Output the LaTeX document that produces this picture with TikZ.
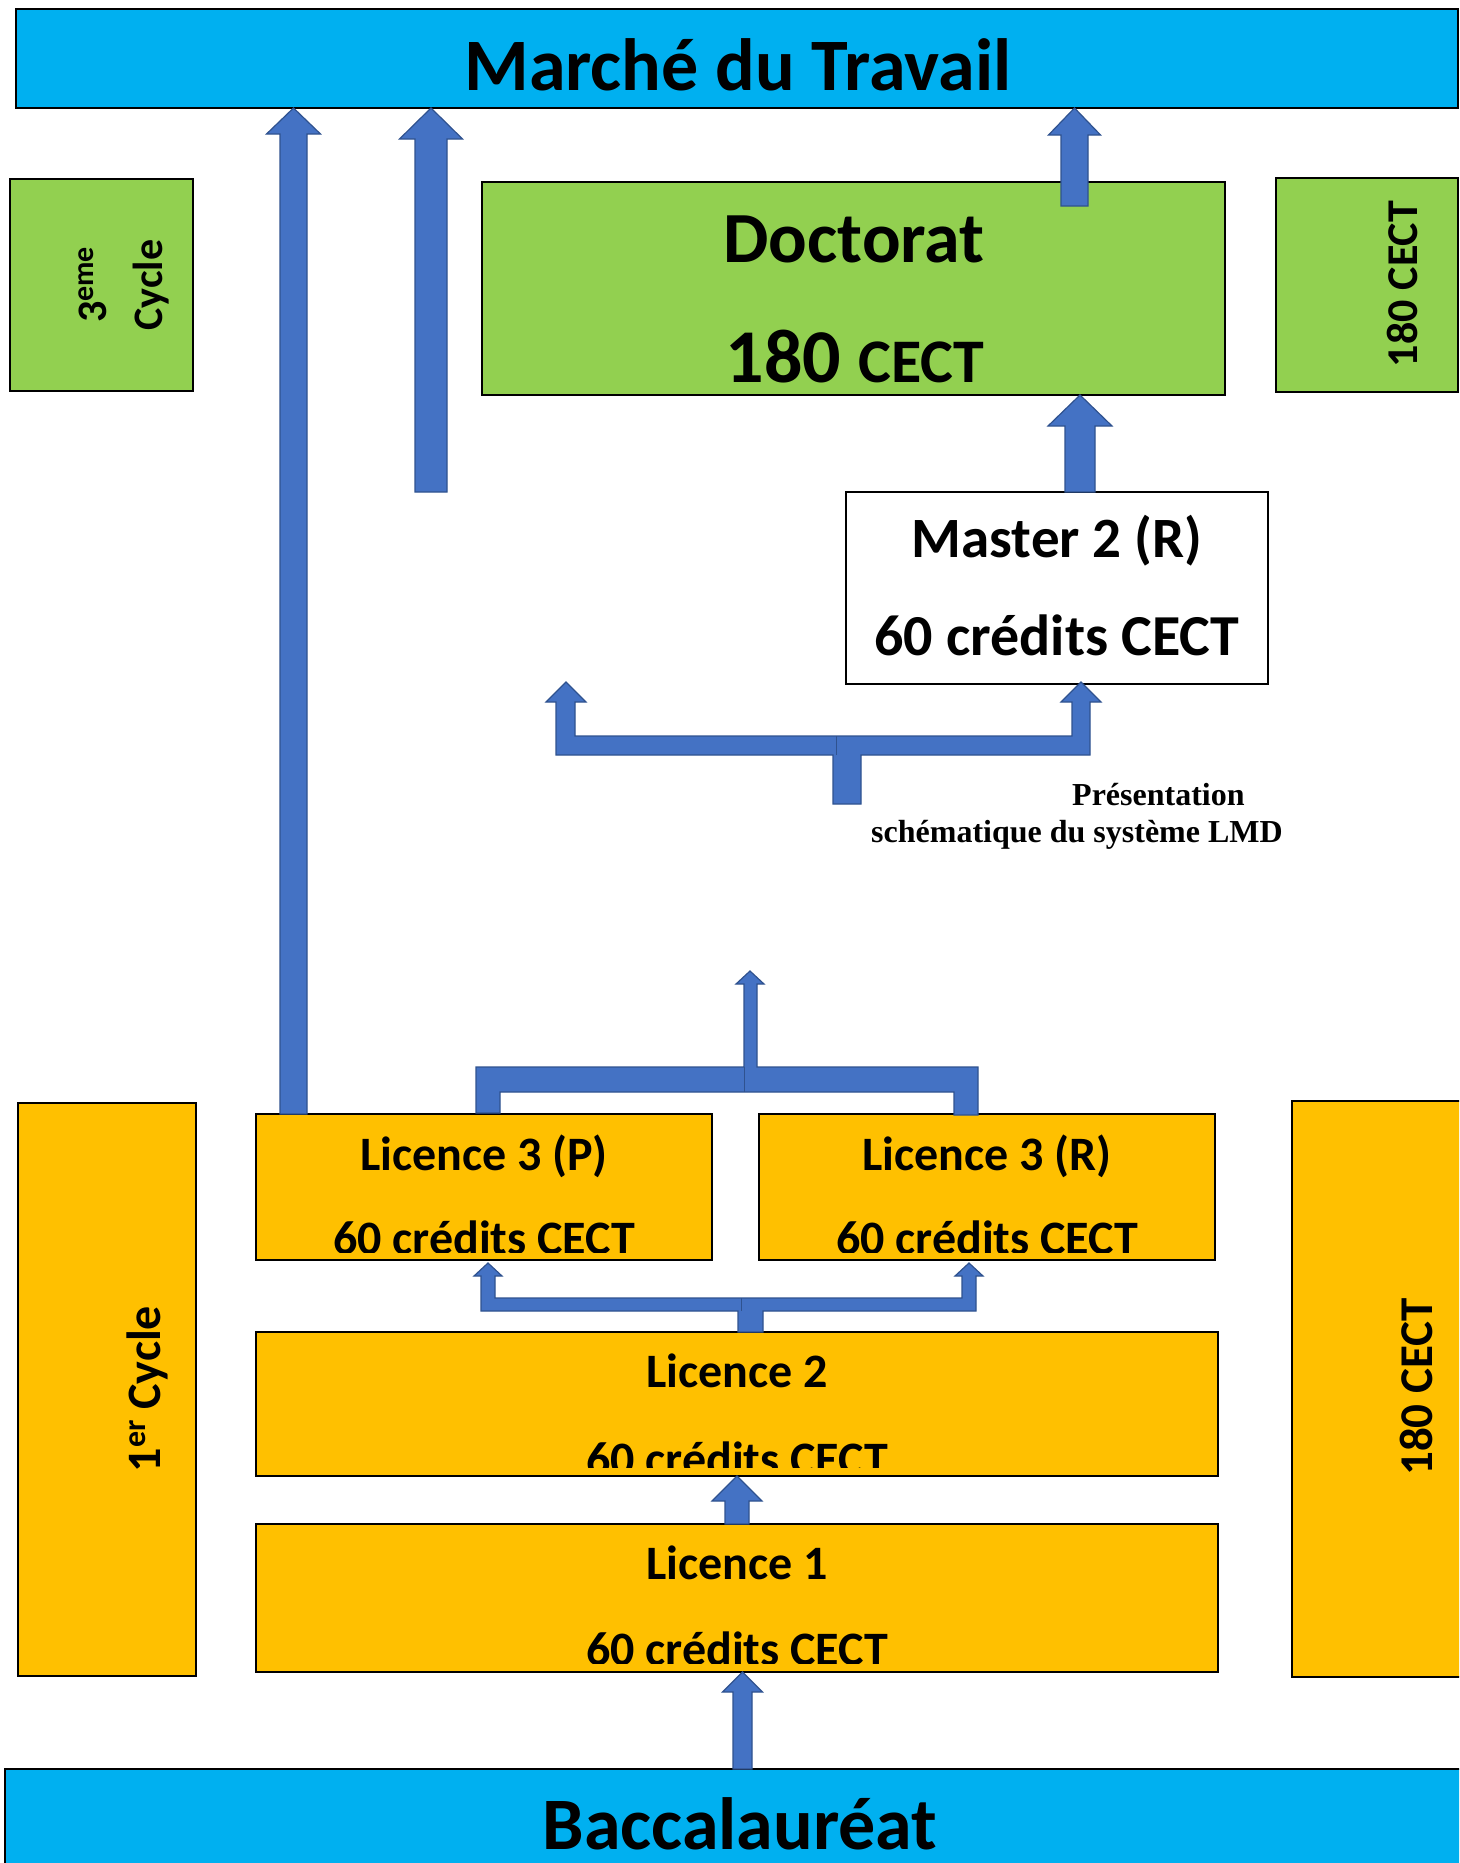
\documentclass[tikz,border=0pt]{standalone}
\usepackage{fontspec}
\setmainfont{Carlito}
\newfontfamily\capfont{Liberation Serif}
\usetikzlibrary{calc}
\definecolor{barblue}{HTML}{00B0F0}
\definecolor{dgreen}{HTML}{92D050}
\definecolor{orng}{HTML}{FFC000}
\definecolor{ablue}{HTML}{4472C4}
\definecolor{aedge}{HTML}{2F528F}
\newcommand\fsz[1]{\fontsize{#1}{#1}\selectfont}
\tikzset{
 box/.style={draw=black, line width=2pt, rectangle, inner sep=0pt, outer sep=0pt, anchor=north west},
 lbl/.style={inner sep=0pt, anchor=base, font=\bfseries},
 barrow/.style={fill=ablue, draw=aedge, line width=1.2pt, line join=miter},
 divider/.style={draw=aedge, line width=1pt},
 caption/.style={inner sep=0pt, anchor=base west, font=\capfont\bfseries\fsz{32}},
}
\newcommand\blockarrow[5]{%
 \path[barrow] let \p1=#1, \p2=#2 in
 (\x1-#3,\y1) -- (\x1-#3,\y2-#5) -- (\x1-#4,\y2-#5) -- (\x1,\y2) -- (\x1+#4,\y2-#5) -- (\x1+#3,\y2-#5) -- (\x1+#3,\y1) -- cycle;}
\begin{document}
\begin{tikzpicture}[x=1pt,y=-1pt]
\useasboundingbox (0,0) rectangle (1459,1863);
\clip (0,0) rectangle (1459,1863);

% ---- boxes ----
\node[box, fill=barblue, minimum width=1442pt, minimum height=99pt] (top) at (16,9) {};
\node[box, fill=dgreen, minimum width=183pt, minimum height=212pt] (g3) at (10,179) {};
\node[box, fill=dgreen, minimum width=743pt, minimum height=213pt] (doct) at (482,182) {};
\node[box, fill=dgreen, minimum width=182pt, minimum height=214pt] (gR) at (1276,178) {};
\node[box, fill=white, minimum width=422pt, minimum height=192pt] (master) at (846,492) {};
\node[box, fill=orng, minimum width=456pt, minimum height=146pt] (l3p) at (256,1114) {};
\node[box, fill=orng, minimum width=456pt, minimum height=146pt] (l3r) at (759,1114) {};
\node[box, fill=orng, minimum width=962pt, minimum height=144pt] (l2) at (256,1332) {};
\node[box, fill=orng, minimum width=962pt, minimum height=148pt] (l1) at (256,1524) {};
\node[box, fill=orng, minimum width=178pt, minimum height=573pt] (o1) at (18,1103) {};
\node[box, fill=orng, minimum width=185pt, minimum height=576pt] (oR) at (1292,1101) {};
\node[box, fill=barblue, minimum width=1470pt, minimum height=110pt] (bac) at (5,1769) {};

% ---- texts ----
\node[lbl, font=\bfseries\fsz{74}] (ttop) at (738,90) {Marché du Travail};
\node[lbl, font=\bfseries\fsz{74}] (tbac) at (740,1849) {Baccalauréat};
\node[lbl, font=\bfseries\fsz{72}] (tdoc1) at (854,262) {Doctorat};
\node[lbl] (tdoc2) at (855,382) {\fsz{76}180 \fsz{62}CECT};
\node[lbl, font=\bfseries\fsz{57}] (tm1) at (1057,557) {Master 2 (R)};
\node[lbl, font=\bfseries\fsz{58}] (tm2) at (1057,655) {60 crédits CECT};
\node[lbl, font=\bfseries\fsz{48}] (tl3p) at (484,1170) {Licence 3 (P)};
\node[lbl, font=\bfseries\fsz{48}] (tl3r) at (987,1170) {Licence 3 (R)};
\node[lbl, font=\bfseries\fsz{48}] (tl2) at (737,1387) {Licence 2};
\node[lbl, font=\bfseries\fsz{48}] (tl1) at (737,1579) {Licence 1};
\begin{scope}
 \clip (l3p.north west) rectangle ($(l3r.south east)+(0,-8)$);
 \node[lbl, font=\bfseries\fsz{48}] (cl3p) at (484,1254) {60 crédits CECT};
 \node[lbl, font=\bfseries\fsz{48}] (cl3r) at (987,1254) {60 crédits CECT};
\end{scope}
\begin{scope}
 \clip (l2.north west) rectangle ($(l2.south east)+(0,-9)$);
 \node[lbl, font=\bfseries\fsz{48}] (cl2) at (737,1475) {60 crédits CECT};
\end{scope}
\begin{scope}
 \clip (l1.north west) rectangle ($(l1.south east)+(0,-9)$);
 \node[lbl, font=\bfseries\fsz{48}] (cl1) at (737,1665) {60 crédits CECT};
\end{scope}
\node[inner sep=0pt, rotate=90, align=center, font=\bfseries\fontsize{42}{56}\selectfont] (tg3) at (124,285)
 {3\raisebox{12.5pt}{\fsz{30}eme}\\Cycle};
\node[lbl, rotate=90, font=\bfseries\fsz{44}] (tgR) at (1417,284) {180 CECT};
\node[lbl, rotate=90, font=\bfseries\fsz{48}] (to1) at (160,1389) {1\raisebox{15pt}{\fsz{32}er} Cycle};
\node[lbl, rotate=90, font=\bfseries\fsz{47}] (toR) at (1432,1387) {180 CECT};
\node[caption] (cap1) at (1072,805) {Présentation};
\node[caption] (cap2) at (871,842) {schématique du système LMD};

% ---- arrows ----
\coordinate (c1) at (293.5,0);
\coordinate (a2s) at (431,492);
\coordinate (a3s) at (1074.5,206);
\coordinate (c4) at (1080,0);
\coordinate (c5) at (737,0);
\coordinate (c6) at (742.5,0);
\blockarrow{(l3p.north -| c1)}{(top.south -| c1)}{13.5pt}{27pt}{26pt}
\blockarrow{(a2s)}{(top.south -| a2s)}{16pt}{31.5pt}{31pt}
\blockarrow{(a3s)}{(top.south -| a3s)}{13.5pt}{26pt}{27pt}
\blockarrow{(master.north -| c4)}{(doct.south -| c4)}{15pt}{32pt}{31pt}
\blockarrow{(l1.north -| c5)}{(l2.south -| c5)}{12pt}{25pt}{25pt}
\blockarrow{(bac.north -| c6)}{(l1.south -| c6)}{9.5pt}{20pt}{20pt}

% fork below Master 2
\path[barrow] (556,755) -- (556,702) -- (546,702) -- (566,682) -- (586,702) -- (575,702) -- (575,736)
 -- (1072,736) -- (1072,702) -- (1061,702) -- (1081,682) -- (1101,702) -- (1090,702) -- (1090,755)
 -- (861,755) -- (861,804) -- (833,804) -- (833,755) -- cycle;
\draw[divider] (836,736) -- (836,755);
% fork above Licence 3
\path[barrow] (476,1113) -- (476,1067) -- (744,1067) -- (744,984) -- (736,984) -- (750,971) -- (764,984)
 -- (757,984) -- (757,1067) -- (978,1067) -- (978,1115) -- (954,1115) -- (954,1092) -- (500,1092)
 -- (500,1113) -- cycle;
\draw[divider] (744,1067) -- (744,1092);
% fork between Licence 2 and Licence 3
\path[barrow] (481,1311) -- (481,1276) -- (474,1276) -- (488,1263) -- (502,1276) -- (495,1276) -- (495,1298)
 -- (962,1298) -- (962,1276) -- (955,1276) -- (969,1263) -- (983,1276) -- (976,1276) -- (976,1311)
 -- (763,1311) -- (763,1332) -- (738,1332) -- (738,1311) -- cycle;
\draw[divider] (741,1298) -- (741,1311);
\end{tikzpicture}
\end{document}
